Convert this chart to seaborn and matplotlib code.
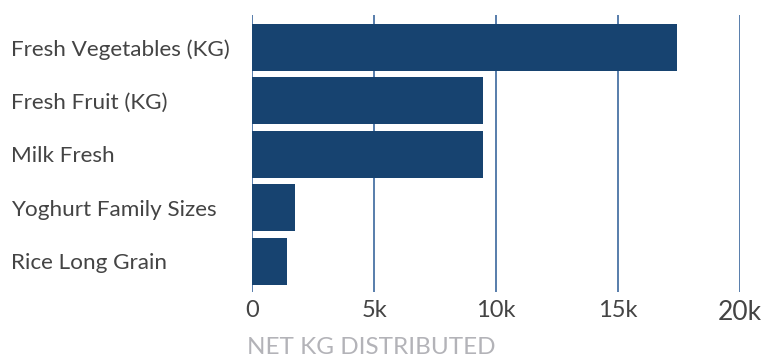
import matplotlib
matplotlib.use("Agg")
import matplotlib.pyplot as plt
import seaborn as sns
import pandas as pd

categories = ["Fresh Vegetables (KG)", "Fresh Fruit (KG)", "Milk Fresh",
              "Yoghurt Family Sizes", "Rice Long Grain"]
values = [17420, 9460, 9460, 1750, 1420]
xticks = [0, 5000, 10000, 15000, 20000]
xtick_labels = ["0", "5k", "10k", "15k", "20k"]

sns.set_theme(style="white")
plt.rcParams['font.family'] = ['Lato', 'DejaVu Sans']

df = pd.DataFrame({"item": categories, "kg": values})

fig = plt.figure(figsize=(7.62, 3.59), dpi=100)
ax = fig.add_axes([252.3/762, 1-292/359, (740-252.3)/762, (292-15)/359])

bar_color = "#174370"
grid_color = "#2a5a94"
sns.barplot(data=df, x="kg", y="item", orient="h", color=bar_color,
            saturation=1, width=0.88, linewidth=0, edgecolor="none", ax=ax)

ax.set_xlim(0, 20000)
ax.set_ylim(4.57, -0.603)
ax.set_xticks(xticks)
ax.set_xticklabels(xtick_labels)
for x in xticks:
    ax.axvline(x, color=grid_color, lw=1.1, zorder=0)
for s in ax.spines.values():
    s.set_visible(False)
ax.tick_params(axis='x', length=0, pad=6, labelsize=17, labelcolor="#444444")
ax.tick_params(axis='y', length=0, pad=0, labelsize=16.2, labelcolor="#444444")
for lbl in ax.get_yticklabels():
    lbl.set_horizontalalignment('left')
    lbl.set_x(-(252.3 - 11) / (740 - 252.3))
ax.get_xticklabels()[-1].set_fontsize(19)
ax.set_ylabel("")
ax.set_xlabel("")
fig.text(247/762, 1-357.5/359, "NET KG DISTRIBUTED",
         color="#b3b3b8", fontsize=17.5, ha="left", va="bottom")

fig.savefig("out.png", dpi=100)
